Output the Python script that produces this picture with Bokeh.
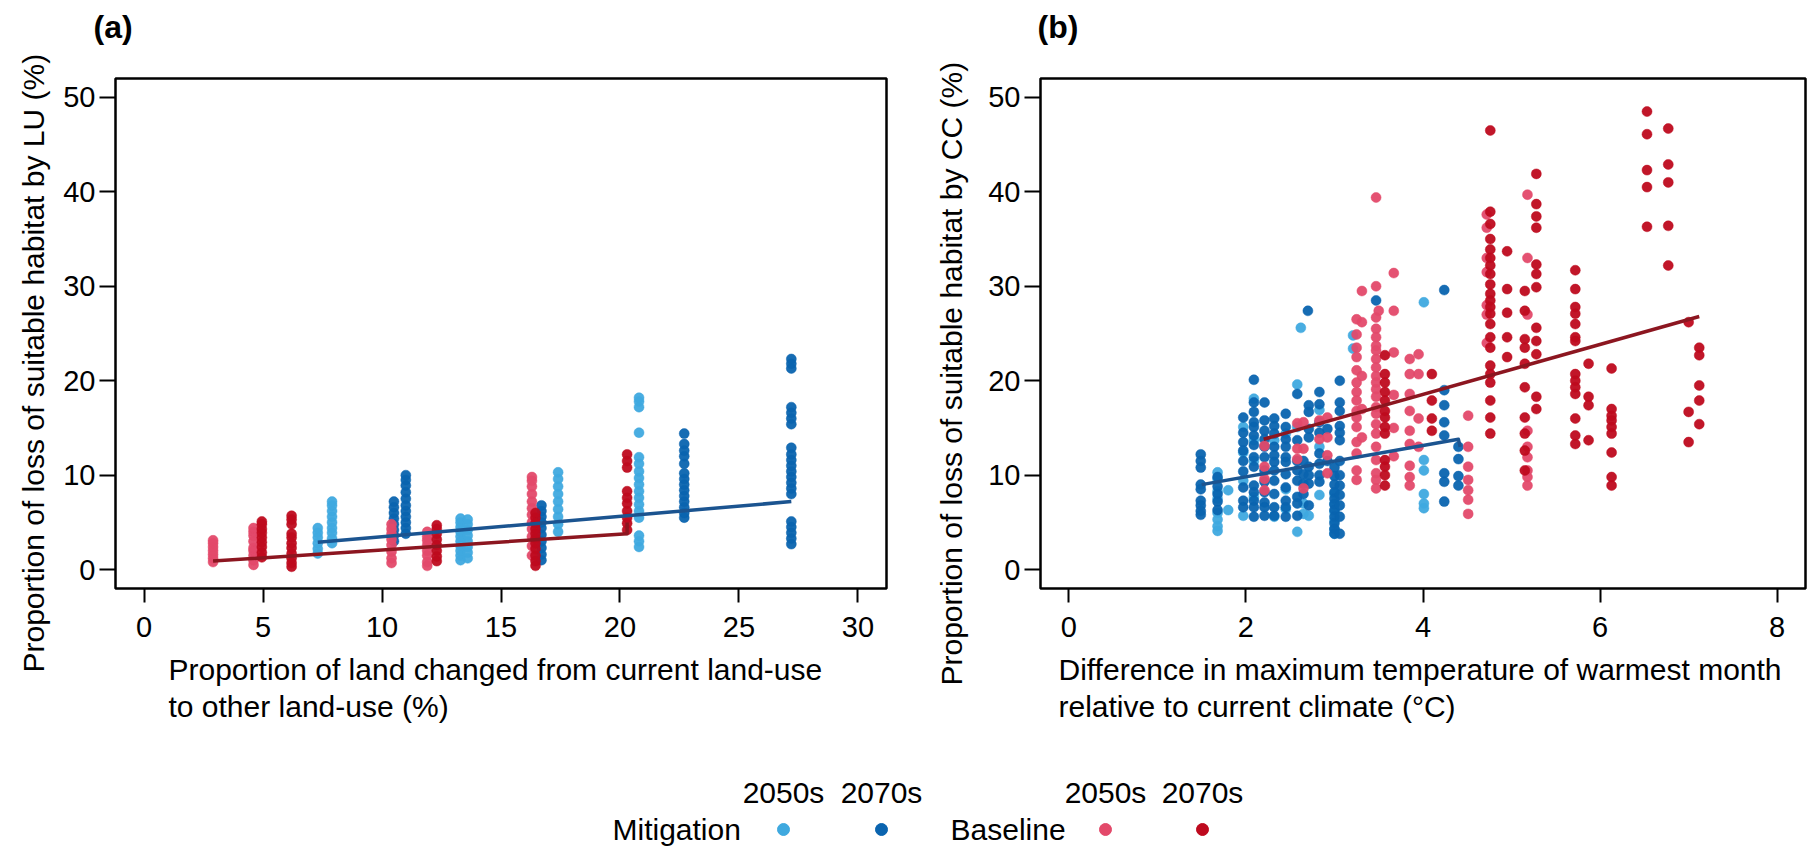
import math
from bokeh.plotting import figure
from bokeh.models import Range1d, FixedTicker, Label, Title
from bokeh.layouts import column, row
from bokeh.embed import file_html
from bokeh.resources import INLINE

FONT = "Liberation Sans"

# ---------------- colours ----------------
C_M50 = "#3FA9DF"   # Mitigation 2050s
C_M70 = "#0A64AF"   # Mitigation 2070s
C_B50 = "#E3496A"   # Baseline 2050s
C_B70 = "#BE0A1E"   # Baseline 2070s
C_MFIT = "#1B5490"
C_BFIT = "#8C1620"

# ---------------- panel (a) data: land-use change ----------------
lu_m50_x = [7.3, 7.9, 13.3, 13.6, 17.4, 20.8]
lu_m50_y = [
    [1.7, 2.2, 2.8, 3.4, 3.9, 4.4],
    [2.8, 3.3, 3.9, 4.4, 5.0, 5.6, 6.2, 6.8, 7.2],
    [1.0, 1.5, 2.0, 2.5, 3.0, 3.5, 4.0, 4.5, 5.0, 5.4],
    [1.2, 1.8, 2.4, 3.0, 3.6, 4.2, 4.8, 5.3],
    [4.0, 4.8, 5.6, 6.4, 7.2, 8.0, 8.8, 9.6, 10.3],
    [2.4, 3.0, 3.6, 5.5, 6.2, 6.9, 7.6, 8.3, 9.0, 9.7, 10.4, 11.2, 11.9, 14.5, 17.2, 17.8, 18.2],
]
lu_m70_x = [10.5, 11.0, 16.7, 22.7, 27.2]
lu_m70_y = [
    [3.0, 3.6, 4.2, 4.8, 5.4, 6.0, 6.6, 7.2],
    [3.8, 4.4, 5.0, 5.6, 6.2, 6.8, 7.5, 8.2, 8.9, 9.5, 10.0],
    [1.0, 1.6, 2.3, 3.0, 3.7, 4.4, 5.0, 5.6, 6.2, 6.8],
    [5.5, 6.0, 6.6, 7.2, 7.8, 8.4, 9.0, 9.6, 10.2, 11.2, 12.0, 12.6, 13.3, 14.4],
    [2.7, 3.3, 3.9, 4.5, 5.1, 8.0, 8.6, 9.2, 9.8, 10.4, 11.0, 11.6, 12.2, 12.9,
     15.4, 16.0, 16.6, 17.2, 21.3, 21.8, 22.3],
]
lu_b50_x = [2.9, 4.6, 10.4, 11.9, 16.3]
lu_b50_y = [
    [0.8, 1.2, 1.6, 2.0, 2.4, 2.8, 3.1],
    [0.5, 1.0, 1.5, 2.0, 2.3, 3.0, 3.6, 4.0, 4.4],
    [0.7, 1.2, 1.9, 2.6, 3.2, 3.8, 4.3, 4.8],
    [0.4, 0.8, 1.5, 2.0, 2.6, 3.1, 3.5, 4.0],
    [1.5, 2.5, 3.5, 4.3, 5.0, 5.8, 6.5, 7.2, 8.0, 8.8, 9.4, 9.8],
]
lu_b70_x = [4.95, 6.2, 12.3, 16.45, 20.3]
lu_b70_y = [
    [1.3, 1.8, 2.4, 2.9, 3.4, 3.9, 4.3, 4.8, 5.1],
    [0.3, 0.7, 1.2, 1.7, 2.3, 2.8, 3.4, 3.8, 4.8, 5.3, 5.7],
    [0.9, 1.4, 2.0, 2.6, 3.2, 3.8, 4.3, 4.7],
    [0.4, 0.9, 1.5, 2.2, 2.8, 3.3, 3.8, 4.3, 4.9, 5.5, 6.0],
    [4.2, 4.9, 5.5, 6.2, 7.0, 7.6, 8.3, 10.8, 11.5, 12.2],
]
lu_mfit_x = [7.3, 27.2]
lu_mfit_y = [2.9, 7.2]
lu_bfit_x = [2.9, 20.3, 20.3]
lu_bfit_y = [0.9, 3.8, 5.0]

# ---------------- panel (b) data: climate change ----------------
cc_m50_x = [1.68, 1.80, 1.97, 2.09, 2.32, 2.45, 2.58, 2.62, 2.65, 2.71, 2.83, 3.0, 3.21, 4.01]
cc_m50_y = [
    [10.3, 9.6, 8.3, 7.5, 6.0, 5.3, 4.6, 4.1],
    [8.4, 6.3],
    [15.1, 12.4, 9.4, 5.7],
    [18.1, 13.7, 11.5, 7.7],
    [13.7, 5.6],
    [14.4, 8.5, 6.4],
    [19.6, 15.1, 4.0],
    [25.6],
    [7.0, 5.9],
    [5.7],
    [16.9, 13.0, 7.9],
    [8.0, 7.0, 6.1, 5.2, 4.3, 3.8],
    [24.8, 23.4],
    [28.3, 11.6, 10.5, 8.0, 7.0, 6.5],
]
cc_m70_x = [1.49, 1.68, 1.97, 2.09, 2.21, 2.32, 2.45, 2.58, 2.65, 2.70, 2.71, 2.83,
            2.92, 3.0, 3.06, 3.47, 4.24, 4.40]
cc_m70_y = [
    [12.2, 11.5, 10.8, 9.0, 8.5, 7.3, 6.8, 6.2, 5.8],
    [9.8, 8.8, 8.0, 7.2, 6.3],
    [16.1, 14.5, 13.5, 12.6, 11.5, 10.4, 8.7, 7.3, 6.6],
    [20.1, 17.7, 16.7, 15.6, 15.1, 14.2, 13.2, 11.9, 10.9, 8.9, 8.2, 7.3, 6.6, 5.6],
    [17.7, 15.8, 14.7, 13.8, 13.0, 11.9, 10.5, 9.3, 8.2, 7.1, 6.6, 5.7],
    [16.0, 15.2, 14.4, 13.0, 12.1, 11.4, 10.5, 9.4, 8.0, 6.6, 5.7],
    [16.5, 15.1, 13.8, 13.0, 11.9, 11.4, 10.1, 8.7, 7.3, 6.6, 5.6],
    [18.6, 13.7, 11.5, 10.5, 9.4, 7.7, 7.0, 5.7],
    [11.5, 10.1, 9.1, 8.0],
    [27.4],
    [17.4, 16.7, 14.9, 14.0, 10.9, 10.0, 9.1, 6.8],
    [18.8, 17.5, 15.6, 14.5, 12.3, 11.2, 10.0, 9.3],
    [14.9, 11.5],
    [10.8, 9.9, 9.0, 8.2, 7.5, 6.9, 6.3, 5.6, 4.9, 4.3, 3.8],
    [20.0, 17.7, 16.8, 15.2, 14.5, 13.7, 11.5, 10.0, 8.9, 7.9, 6.8, 5.6, 3.8],
    [28.5],
    [29.6, 19.0, 17.4, 15.6, 14.2, 10.2, 9.3, 7.2],
    [13.0, 11.7, 9.9, 8.9],
]
cc_b50_x = [2.21, 2.58, 2.65, 2.83, 2.92, 3.25, 3.31, 3.47, 3.50, 3.67, 3.85, 3.95,
            4.51, 4.72, 5.18]
cc_b50_y = [
    [13.1, 10.9, 9.6, 8.4],
    [15.5, 12.8, 11.7],
    [15.6, 12.8, 8.6],
    [15.8, 13.8],
    [16.1, 14.0, 12.1, 10.2],
    [26.5, 24.9, 23.5, 22.5, 21.1, 19.8, 18.8, 17.9, 16.8, 16.1, 15.1, 13.5, 12.3, 10.5, 9.5],
    [29.5, 26.2, 20.5, 17.0, 14.0],
    [39.4, 30.0, 26.7, 25.5, 24.6, 23.7, 23.2, 22.3, 21.4, 20.5, 19.8, 19.1, 18.3,
     17.2, 16.5, 15.4, 14.4, 13.0, 11.6, 10.2, 9.5, 8.6],
    [27.4],
    [31.4, 27.4, 23.0, 18.5, 15.0, 12.0],
    [22.3, 20.7, 18.6, 16.8, 14.7, 13.3, 11.0, 9.8, 8.9],
    [22.8, 20.7, 16.0, 13.0],
    [16.3, 13.0, 10.9, 9.5, 8.4, 7.4, 5.9],
    [37.6, 36.2, 33.0, 31.5, 28.0, 27.0, 24.0],
    [39.7, 33.0, 27.0, 14.7, 13.0, 11.9, 10.5, 9.8, 8.9],
]
cc_b70_x = [3.57, 4.10, 4.76, 4.95, 5.15, 5.28, 5.72, 5.87, 6.13, 6.53, 6.77, 7.0, 7.12]
cc_b70_y = [
    [22.7, 20.7, 19.8, 18.8, 17.9, 16.8, 16.1, 15.1, 14.4, 11.6, 10.9, 10.0, 8.9],
    [20.7, 17.9, 16.0, 14.7],
    [46.5, 37.9, 36.6, 35.0, 33.9, 33.0, 32.2, 31.3, 30.2, 29.2, 28.5, 27.8, 27.1,
     26.0, 24.6, 23.5, 21.6, 20.7, 19.8, 17.9, 16.1, 14.4],
    [33.7, 29.7, 27.2, 24.6, 22.5],
    [29.5, 27.4, 24.4, 23.5, 21.8, 19.3, 16.1, 14.4, 12.6, 10.5],
    [41.9, 38.7, 37.4, 36.2, 32.3, 31.3, 29.9, 25.6, 24.2, 22.8, 18.3, 17.0],
    [31.7, 29.7, 27.8, 27.1, 26.0, 24.6, 24.2, 20.7, 20.0, 19.3, 18.6, 16.0, 14.2, 13.3],
    [21.8, 18.3, 17.4, 13.7],
    [21.3, 17.0, 16.3, 15.8, 15.1, 14.4, 12.4, 9.8, 8.9],
    [48.5, 46.1, 42.3, 40.5, 36.3],
    [46.7, 42.9, 41.0, 36.4, 32.2],
    [26.2, 16.7, 13.5],
    [23.5, 22.7, 19.5, 17.9, 15.4],
]
cc_mfit_x = [1.5, 4.40, 4.42]
cc_mfit_y = [9.0, 13.8, 13.0]
cc_bfit_x = [2.2, 7.12]
cc_bfit_y = [13.8, 26.8]

# ---------------- text ----------------
panel_letters = ["(a)", "(b)"]
ylab_a = "Proportion of loss of suitable habitat by LU (%)"
ylab_b = "Proportion of loss of suitable habitat  by CC (%)"
xlab_a = "Proportion of land changed from current land-use\nto other land-use (%)"
xlab_b = "Difference in maximum temperature of warmest month\nrelative to current climate (\u00b0C)"
xticks_a = [0, 5, 10, 15, 20, 25, 30]
xticks_b = [0, 2, 4, 6, 8]
yticks = [0, 10, 20, 30, 40, 50]
leg_groups = ["Mitigation", "Baseline"]
leg_periods = ["2050s", "2070s"]
leg_colors = [[C_M50, C_M70], [C_B50, C_B70]]


def expand(xs, ys):
    X, Y = [], []
    for x, col in zip(xs, ys):
        X += [x] * len(col)
        Y += col
    return X, Y


W = 1812
TOP_H = 46          # strip holding the panel letters
PH = 760 - TOP_H    # panel figure height
LEG_H = 846 - TOP_H - PH
FRAME_TOP, FRAME_BOTTOM = 78, 588   # in page pixels


def make_panel(xr, xticks, left, right, ylab, xlab, ylab_offset, ylab_standoff,
               xlab_offset, series, fits):
    pw = 906
    top = FRAME_TOP - TOP_H
    bottom = FRAME_BOTTOM - TOP_H
    p = figure(width=pw, height=PH, x_range=Range1d(*xr), y_range=Range1d(-2, 52),
               output_backend="svg", toolbar_location=None,
               min_border_left=left, min_border_right=pw - right,
               min_border_top=top, min_border_bottom=PH - bottom)
    p.grid.visible = False
    p.outline_line_color = "black"
    p.outline_line_width = 2.5
    p.background_fill_color = "white"
    p.border_fill_color = "white"

    for ax in (p.xaxis[0], p.yaxis[0]):
        ax.axis_line_color = None
        ax.major_tick_line_color = "black"
        ax.major_tick_line_width = 2
        ax.major_tick_in = 0
        ax.minor_tick_line_color = None
        ax.major_label_text_font = FONT
        ax.major_label_text_font_size = "29px"
        ax.major_label_text_color = "black"
    p.xaxis.ticker = FixedTicker(ticks=xticks)
    p.yaxis.ticker = FixedTicker(ticks=yticks)
    p.xaxis.major_tick_out = 14
    p.xaxis.major_label_standoff = 14
    p.yaxis.major_tick_out = 16
    p.yaxis.major_label_standoff = 4

    for (xs, ys, col) in series:
        X, Y = expand(xs, ys)
        p.scatter(X, Y, size=10, fill_color=col, line_color=col, line_width=0.5,
                  fill_alpha=0.95, line_alpha=0.95)
    for (fx, fy, col) in fits:
        p.line(fx, fy, line_color=col, line_width=3.5, line_join="round")

    # y label (rotated, on the left)
    p.add_layout(Title(text=ylab, align="left", offset=ylab_offset, vertical_align="middle",
                       standoff=ylab_standoff, text_font=FONT, text_font_size="30px",
                       text_font_style="normal", text_color="black"), "left")
    # x label, two left-aligned lines
    p.add_layout(Title(text=xlab, align="left", offset=xlab_offset, vertical_align="top",
                       standoff=26, text_font=FONT, text_font_size="30px",
                       text_font_style="normal", text_color="black",
                       text_line_height=1.15), "below")
    return p


pa = make_panel((-1.2, 31.2), xticks_a, 115, 886, ylab_a, xlab_a,
                ylab_offset=-(672 - FRAME_BOTTOM), ylab_standoff=20, xlab_offset=168 - 115,
                series=[(lu_m50_x, lu_m50_y, C_M50), (lu_m70_x, lu_m70_y, C_M70),
                        (lu_b50_x, lu_b50_y, C_B50), (lu_b70_x, lu_b70_y, C_B70)],
                fits=[(lu_bfit_x, lu_bfit_y, C_BFIT), (lu_mfit_x, lu_mfit_y, C_MFIT)])

pb = make_panel((-0.32, 8.32), xticks_b, 134, 899, ylab_b, xlab_b,
                ylab_offset=-(685 - FRAME_BOTTOM), ylab_standoff=34, xlab_offset=1058 - 1040,
                series=[(cc_m50_x, cc_m50_y, C_M50), (cc_m70_x, cc_m70_y, C_M70),
                        (cc_b50_x, cc_b50_y, C_B50), (cc_b70_x, cc_b70_y, C_B70)],
                fits=[(cc_mfit_x, cc_mfit_y, C_MFIT), (cc_bfit_x, cc_bfit_y, C_BFIT)])


def strip(h):
    s = figure(width=W, height=h, x_range=Range1d(0, W), y_range=Range1d(h, 0),
               output_backend="svg", toolbar_location=None, x_axis_type=None,
               y_axis_type=None, min_border=0)
    s.grid.visible = False
    s.outline_line_color = None
    return s


# ---------------- top strip: panel letters ----------------
top = strip(TOP_H)
for txt, px in zip(panel_letters, [93, 1037]):
    top.add_layout(Label(x=px, y=26, text=txt, text_font=FONT, text_font_size="32px",
                         text_font_style="bold", text_align="left",
                         text_baseline="middle", text_color="black"))

# ---------------- legend strip ----------------
leg = strip(LEG_H)
group_text_x = [612, 950]
dot_x = [[783, 881], [1105, 1202]]
y0 = TOP_H + PH
head_y, item_y = 792 - y0, 829 - y0

for g, name in enumerate(leg_groups):
    leg.add_layout(Label(x=group_text_x[g], y=item_y, text=name, text_font=FONT,
                         text_font_size="30px", text_align="left",
                         text_baseline="middle", text_color="black"))
    for k, per in enumerate(leg_periods):
        leg.add_layout(Label(x=dot_x[g][k], y=head_y, text=per, text_font=FONT,
                             text_font_size="30px", text_align="center",
                             text_baseline="middle", text_color="black"))
        leg.scatter([dot_x[g][k]], [item_y], size=12, fill_color=leg_colors[g][k],
                    line_color=leg_colors[g][k])

layout = column(top, row(pa, pb), leg)
open("out.html", "w").write(file_html(layout, INLINE))
